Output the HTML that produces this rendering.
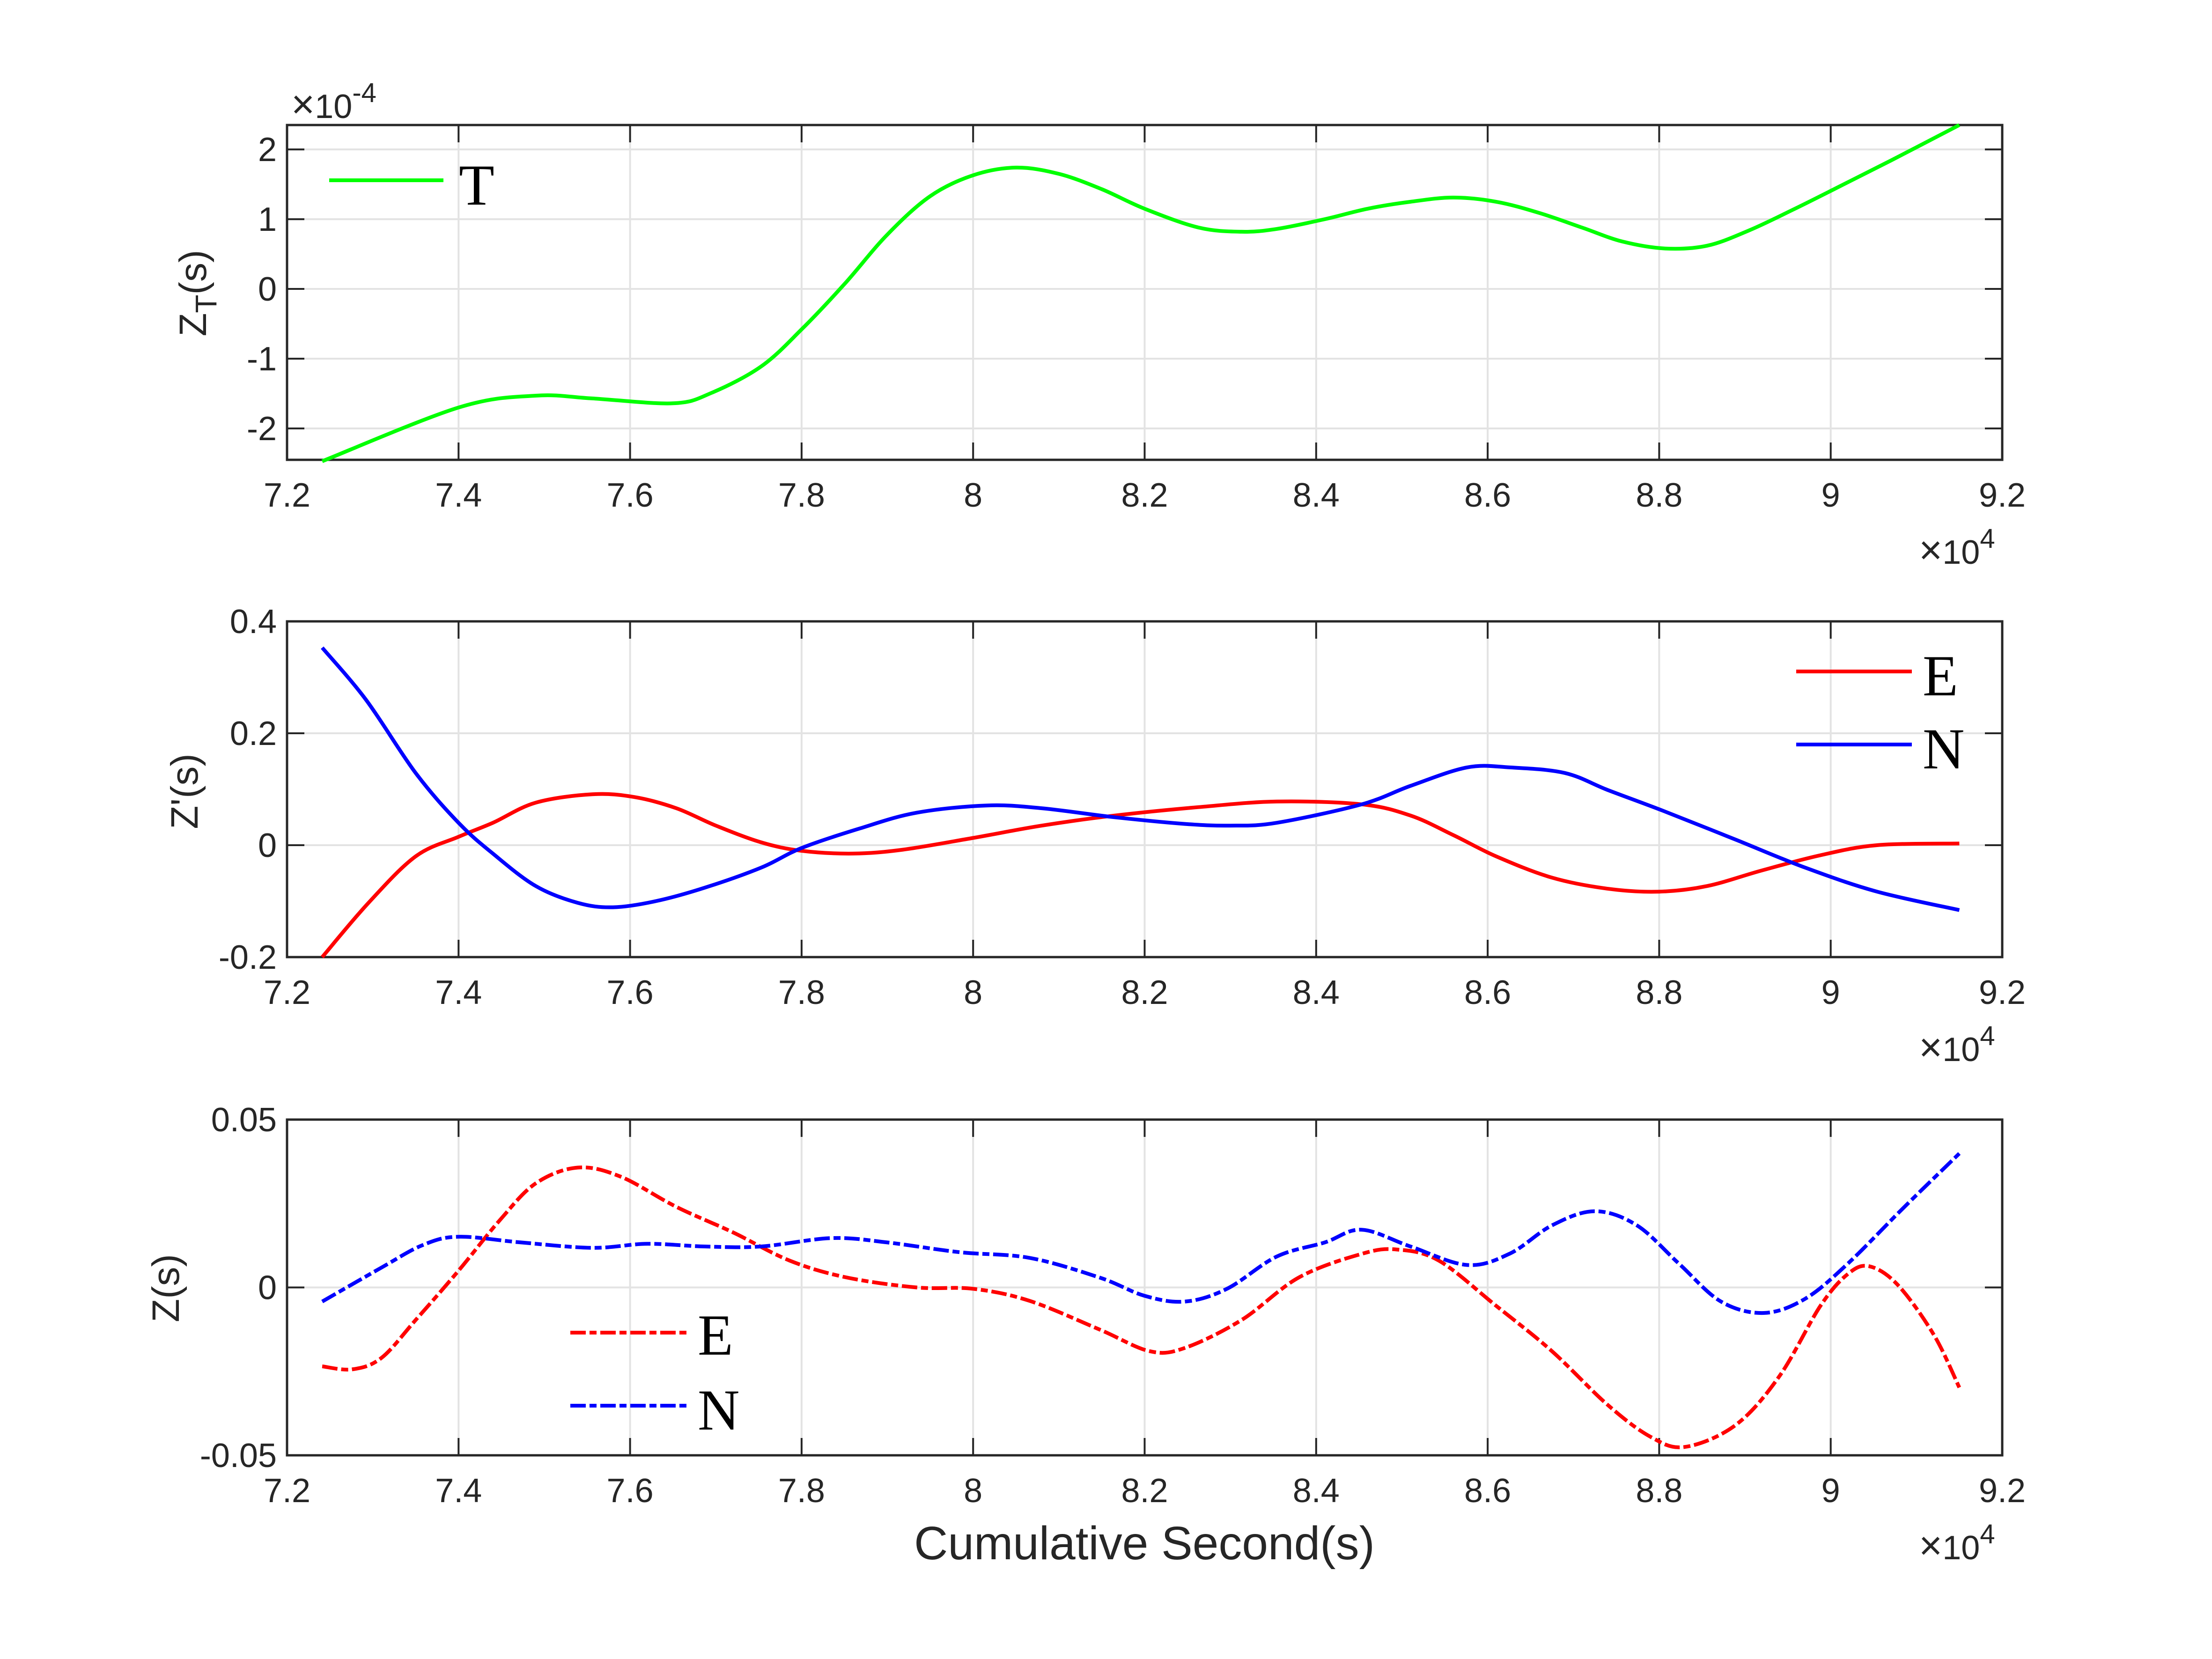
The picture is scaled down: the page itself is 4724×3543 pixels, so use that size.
<!DOCTYPE html>
<html><head><meta charset="utf-8">
<style>
html,body{margin:0;padding:0;background:#fff;}
svg{display:block;}
text{font-family:"Liberation Sans",Arial,sans-serif;fill:#262626;}
.serif{font-family:"Liberation Serif","Times New Roman",serif;fill:#000;}
</style></head>
<body>
<svg id="fig" width="4724" height="3543" viewBox="0 0 4724 3543" xmlns="http://www.w3.org/2000/svg">
<rect width="4724" height="3543" fill="#fff"/>
</svg>
<script>
// ---- data ----
const xTicks = [7.2,7.4,7.6,7.8,8,8.2,8.4,8.6,8.8,9,9.2];
const xTickLabels = ["7.2","7.4","7.6","7.8","8","8.2","8.4","8.6","8.8","9","9.2"];
const yTicks1 = [-2,-1,0,1,2];
const yTickLabels1 = ["-2","-1","0","1","2"];
const yTicks2 = [-0.2,0,0.2,0.4];
const yTickLabels2 = ["-0.2","0","0.2","0.4"];
const yTicks3 = [-0.05,0,0.05];
const yTickLabels3 = ["-0.05","0","0.05"];

const tX = [7.241,7.4,7.49,7.556,7.65,7.695,7.753,7.80,7.85,7.90,7.95,8.0,8.05,8.10,8.15,8.20,8.263,8.313,8.354,8.41,8.46,8.51,8.56,8.61,8.66,8.71,8.757,8.807,8.856,8.905,8.955,9.004,9.07,9.15];
const tY = [-2.47,-1.70,-1.53,-1.57,-1.64,-1.49,-1.11,-0.58,0.07,0.78,1.33,1.63,1.74,1.65,1.43,1.15,0.88,0.82,0.86,1.0,1.15,1.25,1.31,1.25,1.09,0.88,0.68,0.58,0.62,0.84,1.13,1.43,1.84,2.35];

const e2X = [7.241,7.295,7.35,7.4,7.44,7.49,7.556,7.605,7.654,7.70,7.753,7.80,7.86,7.918,8.0,8.08,8.165,8.263,8.354,8.453,8.51,8.56,8.61,8.675,8.741,8.8,8.856,8.92,8.988,9.054,9.15];
const e2Y = [-0.2,-0.103,-0.02,0.015,0.04,0.076,0.091,0.086,0.066,0.035,0.005,-0.01,-0.015,-0.008,0.013,0.035,0.053,0.068,0.078,0.073,0.053,0.018,-0.02,-0.058,-0.078,-0.083,-0.073,-0.045,-0.018,0,0.003];
const n2X = [7.241,7.292,7.35,7.4,7.44,7.49,7.539,7.58,7.63,7.687,7.753,7.80,7.868,7.934,8.016,8.08,8.165,8.247,8.30,8.354,8.453,8.51,8.576,8.626,8.69,8.741,8.807,8.889,8.97,9.054,9.15];
const n2Y = [0.353,0.26,0.129,0.04,-0.015,-0.073,-0.103,-0.111,-0.10,-0.076,-0.04,-0.005,0.03,0.058,0.071,0.066,0.05,0.038,0.035,0.04,0.073,0.106,0.139,0.139,0.129,0.098,0.06,0.01,-0.04,-0.083,-0.116];

const e3X = [7.241,7.276,7.31,7.35,7.4,7.448,7.49,7.539,7.589,7.654,7.72,7.786,7.852,7.934,8.0,8.066,8.148,8.206,8.247,8.313,8.38,8.453,8.494,8.543,8.61,8.675,8.74,8.79,8.83,8.889,8.94,8.988,9.02,9.045,9.078,9.12,9.15];
const e3Y = [-0.0235,-0.0244,-0.021,-0.0097,0.005,0.02,0.031,0.0357,0.033,0.024,0.0164,0.008,0.003,0,-0.0004,-0.004,-0.0126,-0.019,-0.018,-0.0097,0.003,0.010,0.0113,0.008,-0.0055,-0.019,-0.035,-0.0445,-0.0475,-0.041,-0.0265,-0.0055,0.004,0.0063,0.0008,-0.014,-0.0298];
const n3X = [7.241,7.31,7.358,7.4,7.473,7.556,7.62,7.687,7.753,7.835,7.90,7.984,8.066,8.148,8.2,8.247,8.296,8.354,8.41,8.453,8.51,8.576,8.626,8.675,8.725,8.774,8.823,8.872,8.922,8.97,9.02,9.086,9.15];
const n3Y = [-0.0042,0.0059,0.0126,0.0151,0.0134,0.0118,0.013,0.0122,0.0122,0.0147,0.0134,0.0105,0.0088,0.0029,-0.0025,-0.0042,-0.0004,0.0092,0.0134,0.0172,0.0122,0.0067,0.0101,0.0185,0.0227,0.0185,0.0071,-0.0042,-0.0076,-0.0034,0.0071,0.024,0.0399];

// ---- layout ----
const NS="http://www.w3.org/2000/svg";
const svg=document.getElementById('fig');
const L=613,R=4276;
const panels=[
 {top:267,bot:982,ymin:-2.45,ymax:2.35,yt:yTicks1,yl:yTickLabels1,name:'panel-t'},
 {top:1327,bot:2044,ymin:-0.2,ymax:0.4,yt:yTicks2,yl:yTickLabels2,name:'panel-zprime'},
 {top:2391,bot:3108,ymin:-0.05,ymax:0.05,yt:yTicks3,yl:yTickLabels3,name:'panel-z'}
];
function xs(v){return L+(v-7.2)/(9.2-7.2)*(R-L);}
function mk(tag,attrs,parent){const e=document.createElementNS(NS,tag);for(const k in attrs)e.setAttribute(k,attrs[k]);(parent||svg).appendChild(e);return e;}
function pathFrom(X,Y,ys){
 const p=X.map((x,i)=>[xs(x),ys(Y[i])]);
 let d=`M${p[0][0].toFixed(1)},${p[0][1].toFixed(1)}`;
 for(let i=0;i<p.length-1;i++){
  const p0=p[i-1]||p[i],p1=p[i],p2=p[i+1],p3=p[i+2]||p[i+1];
  const c1=[p1[0]+(p2[0]-p0[0])/6,p1[1]+(p2[1]-p0[1])/6];
  const c2=[p2[0]-(p3[0]-p1[0])/6,p2[1]-(p3[1]-p1[1])/6];
  d+=`C${c1[0].toFixed(1)},${c1[1].toFixed(1)} ${c2[0].toFixed(1)},${c2[1].toFixed(1)} ${p2[0].toFixed(1)},${p2[1].toFixed(1)}`;
 }
 return d;
}

panels.forEach((P,pi)=>{
 const g=mk('g',{});
 
 
 const ys=v=>P.bot-(v-P.ymin)/(P.ymax-P.ymin)*(P.bot-P.top);
 P.ys=ys;
 xTicks.forEach(t=>{const x=xs(t);const l=mk('line',{x1:x,x2:x,y1:P.top,y2:P.bot,stroke:'#e3e3e3','stroke-width':4},g);
  });
 P.yt.forEach(t=>{const y=ys(t);const l=mk('line',{x1:L,x2:R,y1:y,y2:y,stroke:'#e3e3e3','stroke-width':4},g);
  });
 xTicks.forEach((t,i)=>{const x=xs(t);
  mk('line',{x1:x,x2:x,y1:P.bot,y2:P.bot-37,stroke:'#262626','stroke-width':4},g);
  mk('line',{x1:x,x2:x,y1:P.top,y2:P.top+37,stroke:'#262626','stroke-width':4},g);
  const tx=mk('text',{x:x,y:P.bot+100,'font-size':72,'text-anchor':'middle'},g);tx.textContent=xTickLabels[i];
  
 });
 P.yt.forEach((t,i)=>{const y=ys(t);
  mk('line',{x1:L,x2:L+37,y1:y,y2:y,stroke:'#262626','stroke-width':4},g);
  mk('line',{x1:R,x2:R-37,y1:y,y2:y,stroke:'#262626','stroke-width':4},g);
  const tx=mk('text',{x:L-22,y:y+25,'font-size':72,'text-anchor':'end'},g);tx.textContent=P.yl[i];
  
 });
 const box=mk('rect',{x:L,y:P.top,width:R-L,height:P.bot-P.top,fill:'none',stroke:'#262626','stroke-width':5},g);
 
 const ex=mk('text',{x:4098,y:P.bot+222,'font-size':72},g);
 ex.innerHTML='<tspan font-size="86">×</tspan>10<tspan dy="-34" font-size="58">4</tspan>';
 
});

function series(X,Y,P,color,dash,name){
 const e=mk('path',{d:pathFrom(X,Y,P.ys),fill:'none',stroke:color,'stroke-width':8,'stroke-linejoin':'round'});
 if(dash)e.setAttribute('stroke-dasharray',dash);
 
 
}
const DD='33 8 15 8';
series(tX,tY,panels[0],'#00ff00',null,'series-t');
series(e2X,e2Y,panels[1],'#ff0000',null,'series-e-zprime');
series(n2X,n2Y,panels[1],'#0000ff',null,'series-n-zprime');
series(e3X,e3Y,panels[2],'#ff0000',DD,'series-e-z');
series(n3X,n3Y,panels[2],'#0000ff',DD,'series-n-z');

const ye=mk('text',{x:622,y:252,'font-size':72});
ye.innerHTML='<tspan font-size="86">×</tspan>10<tspan dy="-34" font-size="58">-4</tspan>';


function ytitle(html,x,y,name){const t=mk('text',{x:0,y:0,'font-size':82,'text-anchor':'middle',transform:`translate(${x},${y}) rotate(-90)`});
 t.innerHTML=html;}
ytitle('Z<tspan dy="22" font-size="64">T</tspan><tspan dy="-22">(s)</tspan>',440,626,'y-axis-title-t');
ytitle("Z'(s)",422,1690,'y-axis-title-zprime');
ytitle('Z(s)',382,2751,'y-axis-title-z');

const xl=mk('text',{x:2444,y:3330,'font-size':100,'text-anchor':'middle'});
xl.textContent='Cumulative Second(s)';


function legend(x1,x2,y,color,dash,label,tx,ty,name){
 const g=mk('g',{});
 
 
 const l=mk('line',{x1:x1,x2:x2,y1:y,y2:y,stroke:color,'stroke-width':8},g);
 if(dash)l.setAttribute('stroke-dasharray',dash);
 const t=mk('text',{x:tx,y:ty,'font-size':124,class:'serif'},g);t.textContent=label;
}
legend(703,947,385,'#00ff00',null,'T',980,437,'legend-entry-t');
legend(3836,4083,1434,'#ff0000',null,'E',4106,1485,'legend-entry-e-zprime');
legend(3836,4083,1590,'#0000ff',null,'N',4106,1641,'legend-entry-n-zprime');
legend(1218,1468,2846,'#ff0000',DD,'E',1490,2893,'legend-entry-e-z');
legend(1218,1468,3002,'#0000ff',DD,'N',1490,3053,'legend-entry-n-z');
</script>
</body></html>
